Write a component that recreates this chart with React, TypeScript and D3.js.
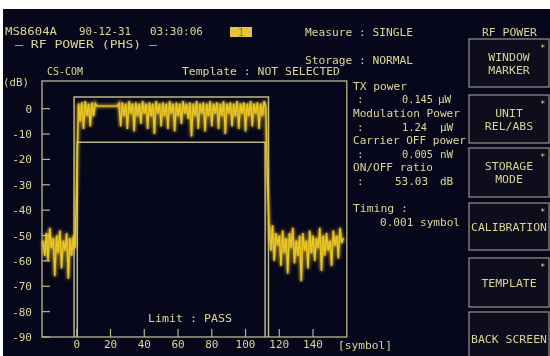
import React from "react";
import * as d3 from "d3";

// ---- data ----
const yTicks = [0, -10, -20, -30, -40, -50, -60, -70, -80, -90];
const xTicks = [0, 20, 40, 60, 80, 100, 120, 140];

// trace: left off-burst noise (symbols -20 .. -1)
const leftStart = -20;
const leftNoise = [-52, -58, -49, -60, -47, -55, -51, -66, -50, -57, -48, -63, -52, -56, -49, -67, -51, -58, -50, -55];
// burst (symbols 0 .. 112)
const burstStart = 0;
const burst = [
  -28, 2, -5, 2.5, -8, 3, -3, 2, -7, 2.5, -3, 2,
  1, 1, 1, 1, 1, 1, 1, 1, 1, 1, 1, 1, 1,
  2, -7, 2.5, -3, 2, -8, 3, -2, 2, -9, 2.5, -3, 2, -6, 3, -2, 2, -8, 2.5, -3,
  2, -10, 3, -2, 2, -7, 2.5, -3, 2, -8, 3, -2, 2, -9, 2.5, -3, 2, -6, 3, -2,
  2, -4, 2.5, -11, 2, -3, 3, -8, 2, -2, 2.5, -9, 2, -3, 3, -7, 2, -2, 2.5, -8,
  2, -3, 3, -10, 2, -2, 2.5, -7, 2, -3, 3, -8, 2, -2, 2.5, -9, 2, -3, 3, -7,
  2, -2, 2.5, -8, 2, -3, 3, 1,
];
// right off-burst noise (symbols 113 .. 158)
const rightStart = 113;
const rightNoise = [
  -30, -47, -56, -46, -60, -49, -54, -50, -62, -48, -57, -51, -65, -49, -55, -47,
  -61, -52, -58, -50, -68, -49, -56, -52, -63, -48, -57, -50, -60, -51, -55, -47,
  -64, -50, -58, -49, -56, -52, -62, -48, -54, -50, -59, -47, -53, -51,
];
// template limits [symbol, dB]
const upperTemplate: [number, number][] = [[-1.6, -90], [-1.6, 4.6], [113.6, 4.6], [113.6, -90]];
const lowerTemplate: [number, number][] = [[0.3, -90], [0.3, -13.2], [111.6, -13.2], [111.6, -90]];

const softkeys = [
  ["WINDOW", "MARKER"],
  ["UNIT", "REL/ABS"],
  ["STORAGE", "MODE"],
  ["CALIBRATION"],
  ["TEMPLATE"],
  ["BACK SCREEN"],
];

const BG = "#07071b";
const TEXT = "#dcd696";
const FRAME = "#b9b68c";
const BTN = "#8c8c86";
const TRACE = "#ebc61e";
const FONT = "'DejaVu Sans Mono', 'Liberation Mono', monospace";

export default function App() {
  const x = d3.scaleLinear().domain([-20.6, 160]).range([42, 346.8]);
  const y = d3.scaleLinear().domain([-90, 10.9]).range([337, 81]);

  const pts: [number, number][] = [];
  leftNoise.forEach((v, i) => pts.push([leftStart + i, v]));
  burst.forEach((v, i) => pts.push([burstStart + i, v]));
  rightNoise.forEach((v, i) => pts.push([rightStart + i, v]));
  const line = d3.line<[number, number]>().x((d) => x(d[0])).y((d) => y(d[1]));

  const T = (props: any) => (
    <text fill={TEXT} fontFamily={FONT} fontSize={11} lengthAdjust="spacingAndGlyphs" {...props} />
  );

  const btnTops = [39, 95, 148, 203, 258, 312];
  const btnBots = [87, 143, 197, 250, 307, 366];

  return (
    <svg width={550} height={356} style={{ position: "absolute", left: 0, top: 0 }}>
      <defs>
        <filter id="glow" x="-10%" y="-10%" width="120%" height="120%">
          <feGaussianBlur stdDeviation="1.8" />
        </filter>
        <filter id="soft">
          <feGaussianBlur stdDeviation="0.35" />
        </filter>
      </defs>
      <rect x={0} y={0} width={550} height={356} fill="#ffffff" />
      <rect x={3} y={9} width={547} height={347} fill={BG} />

      <g filter="url(#soft)">
        {/* header */}
        <T x={5} y={35} textLength={52}>MS8604A</T>
        <T x={79} y={35} textLength={52}>90-12-31</T>
        <T x={150} y={35} textLength={53}>03:30:06</T>
        <rect x={230} y={27} width={22} height={10} fill="#e6c43e" />
        <text x={241} y={36} fill="#9a7a18" fontFamily={FONT} fontSize={10} textAnchor="middle">1</text>
        <T x={15} y={48} textLength={142}>— RF POWER (PHS) —</T>
        <T x={47} y={75} textLength={36}>CS-COM</T>
        <T x={182} y={75} textLength={158}>Template : NOT SELECTED</T>
        <T x={305} y={36} textLength={108}>Measure : SINGLE</T>
        <T x={305} y={64} textLength={108}>Storage : NORMAL</T>
        <T x={482} y={36} textLength={55}>RF POWER</T>
        <T x={3} y={86} textLength={26}>(dB)</T>

        {/* frame */}
        <rect x={42} y={81} width={304.8} height={256} fill="none" stroke={FRAME} strokeWidth={1.3} />
        {yTicks.map((t) => (
          <g key={t}>
            <line x1={42} x2={50} y1={y(t)} y2={y(t)} stroke={FRAME} strokeWidth={1.2} />
            <T x={32} y={y(t) + 4} textAnchor="end">{String(t)}</T>
          </g>
        ))}
        {xTicks.map((t) => (
          <g key={t}>
            <line x1={x(t)} x2={x(t)} y1={337} y2={329} stroke={FRAME} strokeWidth={1.2} />
            <T x={x(t)} y={348} textAnchor="middle">{String(t)}</T>
          </g>
        ))}
        <T x={338} y={349} textLength={54}>[symbol]</T>

        {/* templates */}
        <path d={line(upperTemplate) || ""} fill="none" stroke={FRAME} strokeWidth={1.5} />
        <path d={line(lowerTemplate) || ""} fill="none" stroke={FRAME} strokeWidth={1.5} />

        <T x={148} y={322} textLength={84}>Limit : PASS</T>

        {/* results */}
        <T x={353} y={90} textLength={54}>TX power</T>
        <T x={357} y={103}>:</T>
        <T x={402} y={103} textLength={31}>0.145</T>
        <T x={438} y={103}>µW</T>
        <T x={353} y={117} textLength={107}>Modulation Power</T>
        <T x={357} y={131}>:</T>
        <T x={402} y={131} textLength={25}>1.24</T>
        <T x={440} y={131}>µW</T>
        <T x={353} y={144} textLength={113}>Carrier OFF power</T>
        <T x={357} y={158}>:</T>
        <T x={402} y={158} textLength={31}>0.005</T>
        <T x={440} y={158}>nW</T>
        <T x={353} y={171} textLength={80}>ON/OFF ratio</T>
        <T x={357} y={185}>:</T>
        <T x={395} y={185} textLength={33}>53.03</T>
        <T x={440} y={185}>dB</T>
        <T x={353} y={212} textLength={55}>Timing :</T>
        <T x={380} y={226} textLength={80}>0.001 symbol</T>

        {/* softkeys */}
        {softkeys.map((lab, i) => {
          const top = btnTops[i];
          const bot = btnBots[i];
          const cy = (top + bot) / 2;
          return (
            <g key={i}>
              <rect x={469} y={top} width={80} height={bot - top} fill={BG} stroke={BTN} strokeWidth={1.3} />
              {i < 5 && (
                <text x={540} y={top + 12} fill={TEXT} fontFamily={FONT} fontSize={9}>*</text>
              )}
              {lab.map((s, j) => (
                <T key={j} x={509} y={cy + 4 + (j - (lab.length - 1) / 2) * 13} textAnchor="middle"
                   textLength={s.length * 6.9}>{s}</T>
              ))}
            </g>
          );
        })}
      </g>

      {/* trace */}
      <path d={line(pts) || ""} fill="none" stroke="#ffd83a" strokeWidth={3} opacity={0.7} filter="url(#glow)" />
      <path d={line(pts) || ""} fill="none" stroke={TRACE} strokeWidth={1.4} />
    </svg>
  );
}
